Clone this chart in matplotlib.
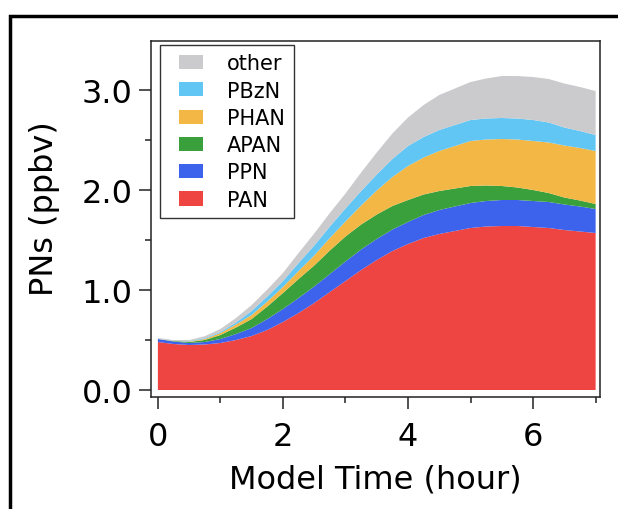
import matplotlib
matplotlib.use("Agg")
import matplotlib.pyplot as plt
from matplotlib.patches import Rectangle, Patch
from matplotlib.legend_handler import HandlerPatch
from matplotlib.ticker import MultipleLocator, FormatStrFormatter

# model time (hours) and mixing ratio of each peroxy nitrate (ppbv)
hours = [0.0, 0.25, 0.5, 0.75, 1.0, 1.25, 1.5, 1.75, 2.0, 2.25, 2.5, 2.75, 3.0, 3.25,
         3.5, 3.75, 4.0, 4.25, 4.5, 4.75, 5.0, 5.25, 5.5, 5.75, 6.0, 6.25, 6.5, 6.75, 7.0]
pan = [0.48, 0.46, 0.45, 0.455, 0.47, 0.50, 0.54, 0.60, 0.68, 0.77, 0.87, 0.98, 1.09, 1.20,
       1.30, 1.39, 1.46, 1.52, 1.56, 1.59, 1.62, 1.635, 1.64, 1.64, 1.63, 1.62, 1.60, 1.585, 1.57]
ppn = [0.03, 0.025, 0.02, 0.025, 0.04, 0.06, 0.08, 0.11, 0.13, 0.15, 0.165, 0.18, 0.195, 0.205,
       0.21, 0.215, 0.22, 0.23, 0.24, 0.245, 0.25, 0.255, 0.26, 0.26, 0.26, 0.26, 0.255, 0.25, 0.24]
apan = [0.0, 0.005, 0.01, 0.02, 0.04, 0.065, 0.09, 0.125, 0.16, 0.19, 0.21, 0.235, 0.25, 0.25,
        0.245, 0.235, 0.22, 0.205, 0.19, 0.18, 0.17, 0.155, 0.14, 0.125, 0.11, 0.09, 0.07, 0.06, 0.05]
phan = [0.0, 0.0, 0.005, 0.01, 0.02, 0.03, 0.04, 0.05, 0.06, 0.08, 0.10, 0.125, 0.15, 0.19,
        0.24, 0.29, 0.34, 0.37, 0.40, 0.425, 0.45, 0.46, 0.47, 0.48, 0.49, 0.505, 0.52, 0.525, 0.53]
pbzn = [0.0, 0.0, 0.005, 0.008, 0.01, 0.02, 0.04, 0.05, 0.06, 0.08, 0.10, 0.115, 0.13, 0.145,
        0.16, 0.18, 0.20, 0.205, 0.21, 0.21, 0.21, 0.21, 0.21, 0.21, 0.21, 0.20, 0.18, 0.17, 0.16]
other = [0.01, 0.01, 0.01, 0.02, 0.03, 0.045, 0.06, 0.07, 0.08, 0.10, 0.12, 0.135, 0.15, 0.185,
         0.22, 0.255, 0.285, 0.32, 0.35, 0.365, 0.38, 0.40, 0.42, 0.425, 0.43, 0.435, 0.44, 0.44, 0.44]

names = ["PAN", "PPN", "APAN", "PHAN", "PBzN", "other"]
colors = ["#ee4442", "#3d62eb", "#3aa03c", "#f3b745", "#62c6f5", "#cbcbcd"]

plt.rcParams["font.family"] = "DejaVu Sans"


def swatch(legend, orig_handle, xdescent, ydescent, width, height, fontsize):
    # colour block sits at the right end of the handle box
    w = 24 / 100 * 72
    return Rectangle((width - w - xdescent, -ydescent), w, height)


fig = plt.figure(figsize=(6.18, 5.10), dpi=100)
ax = fig.add_axes([151 / 618, 1 - 398 / 510, 449 / 618, 356 / 510])

ax.stackplot(hours, pan, ppn, apan, phan, pbzn, other,
             colors=colors, linewidth=0)

ax.set_xlim(-0.11, 7.07)
ax.set_ylim(-0.07, 3.49)
ax.xaxis.set_major_locator(MultipleLocator(2))
ax.xaxis.set_minor_locator(MultipleLocator(1))
ax.yaxis.set_major_locator(MultipleLocator(1))
ax.yaxis.set_minor_locator(MultipleLocator(0.5))
ax.yaxis.set_major_formatter(FormatStrFormatter("%.1f"))
ax.tick_params(which="major", direction="out", length=8.5, width=1.1,
               labelsize=23, color="#222222")
ax.tick_params(which="minor", direction="out", length=4.5, width=1.1,
               color="#222222")
ax.tick_params(axis="x", which="major", pad=9)
ax.tick_params(axis="y", which="major", pad=5)
for side in ax.spines.values():
    side.set_linewidth(1.1)
    side.set_color("#222222")

ax.set_xlabel("Model Time (hour)", fontsize=23)
ax.set_ylabel("PNs (ppbv)", fontsize=23)
ax.xaxis.set_label_coords(0.5, -0.186)
ax.yaxis.set_label_coords(-0.203, 0.531)

handles = [Patch(facecolor=c, edgecolor="none", label=n)
           for n, c in zip(names, colors)][::-1]
leg = ax.legend(handles=handles, loc="upper left",
                bbox_to_anchor=(9 / 449, 1 - 4 / 356), borderaxespad=0,
                fontsize=15, frameon=True, fancybox=False, framealpha=1,
                edgecolor="#333333", handlelength=1.68, handleheight=0.67,
                handletextpad=1.15, labelspacing=0.35, borderpad=0.4,
                handler_map={Patch: HandlerPatch(patch_func=swatch)})
leg.get_frame().set_linewidth(1.0)

# black frame around the panel (cut off on the right and bottom)
fig.patches.append(Rectangle((10 / 618, -0.2), 1.5, 1.2 - 17 / 510,
                             transform=fig.transFigure, fill=False,
                             edgecolor="black", linewidth=2.5))

fig.savefig("out.png", dpi=100)
